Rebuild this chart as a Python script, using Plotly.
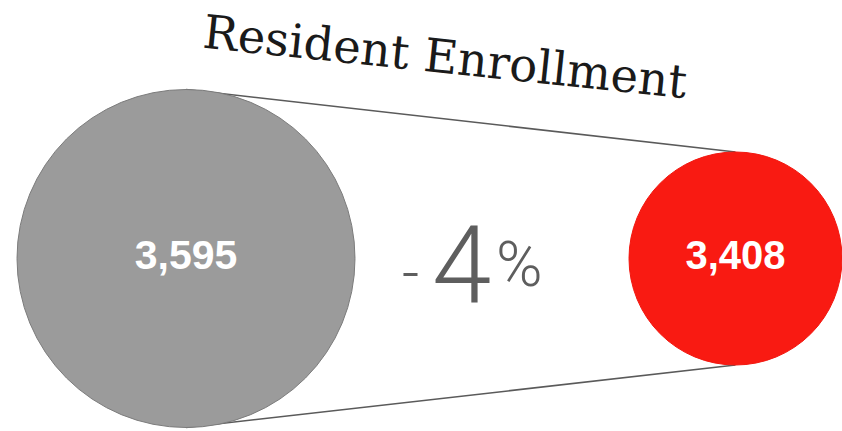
import plotly.graph_objects as go

# ---- data ----
title_text = "Resident Enrollment"
groups = ["Previous", "Current"]
enrollment = [3595, 3408]
pct_change = -4

# ---- layout constants (pixels) ----
W, H = 842, 431
cx = [186, 735.5]
cy = 258.5
diam = [338, 213]
colors = ["#9b9b9b", "#f91a12"]
outline = ["#7c7c7c", "#f2170f"]

fig = go.Figure()

# connecting lines (top and bottom of each circle)
r = [d / 2 for d in diam]
for sign in (-1, 1):
    fig.add_trace(go.Scatter(
        x=cx, y=[cy + sign * r[0], cy + sign * r[1]],
        mode="lines", line=dict(color="#5a5a5a", width=1.5),
        hoverinfo="skip", showlegend=False))

# circles with values
fig.add_trace(go.Scatter(
    x=cx, y=[cy, cy],
    mode="markers+text",
    marker=dict(size=diam, color=colors, line=dict(color=outline, width=1), opacity=1),
    text=[f"{v:,}" for v in enrollment],
    textposition="middle center",
    textfont=dict(family="Liberation Sans, Arial, sans-serif", size=[41, 40], color="white", weight="bold"),
    customdata=groups,
    hoverinfo="skip", showlegend=False))

# title (tilted)
fig.add_annotation(x=445, y=57, xref="x", yref="y", text=title_text, showarrow=False,
                   textangle=6, font=dict(family="DejaVu Serif, serif", size=46.5, color="#1a1a1a"),
                   xanchor="center", yanchor="middle")

# percent change pieces
num = str(abs(pct_change))
sign_txt = "-" if pct_change < 0 else "+"
light = dict(family="Roboto, sans-serif", color="#5e5e5e", weight=300)
fig.add_annotation(x=410, y=272, xref="x", yref="y", text=sign_txt, showarrow=False,
                   font=dict(size=60, **light), xanchor="center", yanchor="middle")
fig.add_annotation(x=461, y=265, xref="x", yref="y", text=num, showarrow=False,
                   font=dict(size=107, **light), xanchor="center", yanchor="middle")
fig.add_annotation(x=519, y=264, xref="x", yref="y", text="%", showarrow=False,
                   font=dict(size=63, **light), xanchor="center", yanchor="middle")

fig.update_layout(
    width=W, height=H, margin=dict(l=0, r=0, t=0, b=0),
    paper_bgcolor="white", plot_bgcolor="white",
    xaxis=dict(range=[0, W], visible=False, fixedrange=True),
    yaxis=dict(range=[H, 0], visible=False, fixedrange=True),
    showlegend=False,
)

fig.write_html("out.html", config={"displayModeBar": False})
